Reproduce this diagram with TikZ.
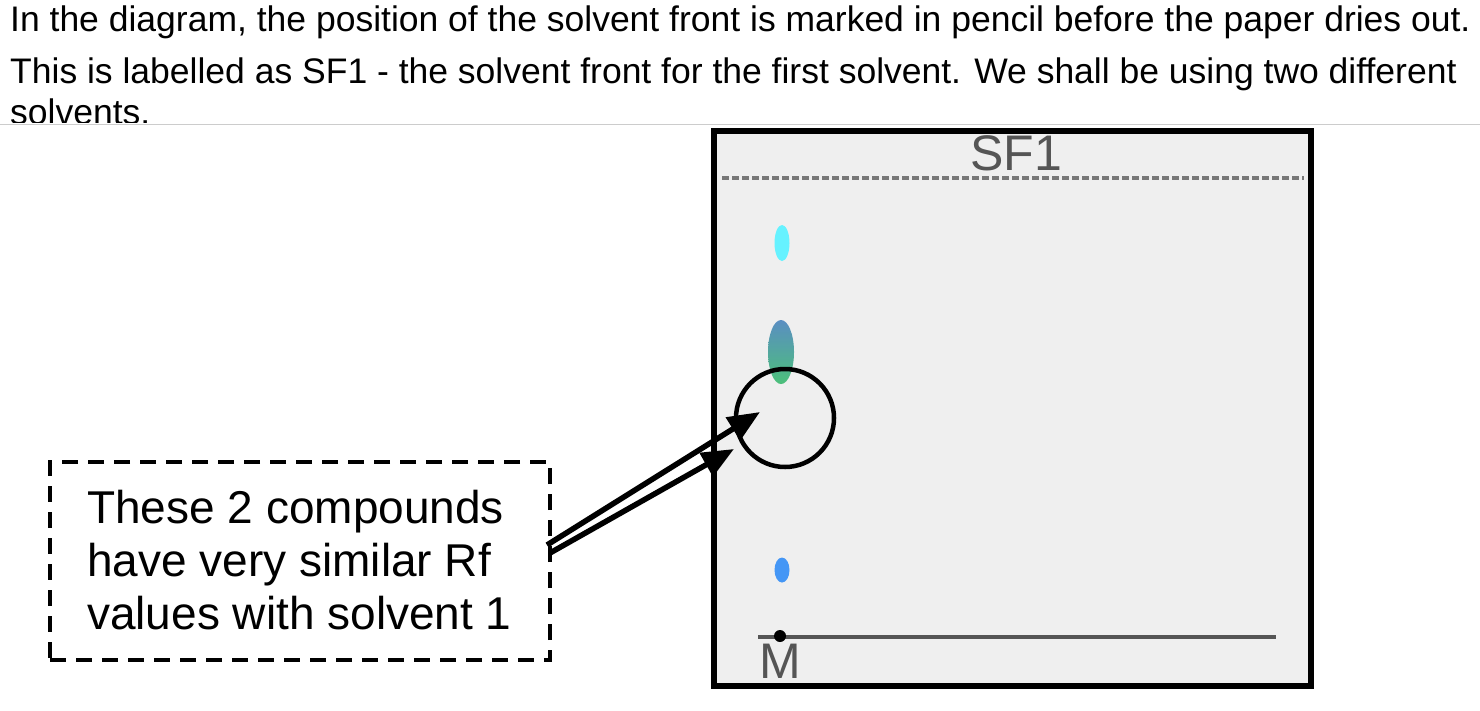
\documentclass[tikz,border=0pt]{standalone}
\usepackage{fontspec}
\setmainfont{Liberation Sans}
\usetikzlibrary{arrows.meta,shapes.geometric}
\definecolor{plate}{HTML}{EFEFEF}
\definecolor{penc}{HTML}{555555}
\definecolor{cyspot}{HTML}{66F2FF}
\definecolor{blspot}{HTML}{4496F5}
\definecolor{topspot}{HTML}{5A8EC2}
\definecolor{botspot}{HTML}{4CC07A}
\tikzset{
 toptext/.style={anchor=base west,inner sep=0,font=\fontsize{35.5}{40}\selectfont},
 boxtext/.style={anchor=base west,inner sep=0,font=\fontsize{46}{52}\selectfont},
 arr/.style={line width=5.5pt,-{Triangle[length=32pt,width=26pt]}},
 spot/.style={ellipse,inner sep=0}
}
\begin{document}
\begin{tikzpicture}[x=1pt,y=-1pt]
\useasboundingbox (0,0) rectangle (1480,710);
\node[toptext] (t1) at (10,31) {In the diagram, the position of the solvent front is marked in pencil before the paper dries out.};
\node[toptext] (t2) at (10,83) {This is labelled as SF1 - the solvent front for the first solvent. We shall be using two different};
\node[toptext] (t3) at (10,124) {solvents.};
\fill[white] (0,123) rectangle (1480,710);
\draw[gray!40,line width=1pt] (0,124) -- (1480,124);
% plate
\draw[line width=6.5pt,fill=plate] (714,131) rectangle (1311,686);
\draw[penc!80,line width=4pt,dash pattern=on 7pt off 3pt] (722,178) -- (1304,178);
\node[text=penc,font=\fontsize{50}{56}\selectfont,inner sep=0] (sf) at (1016,153) {SF1};
\node[spot,fill=cyspot,minimum width=15pt,minimum height=36pt] (s1) at (782,243) {};
\node[spot,top color=topspot,bottom color=botspot,minimum width=26pt,minimum height=64pt] (s2) at (781,352) {};
\node[spot,fill=blspot,minimum width=15pt,minimum height=25pt] (s3) at (782,570) {};
\draw[penc,line width=4pt] (758,637) -- (1276,637);
\fill (780,636) circle (6pt);
\node[text=penc,font=\fontsize{50}{56}\selectfont,inner sep=0] (m) at (780,661) {M};
\node[circle,draw,line width=4.5pt,minimum size=98pt,inner sep=0] (c) at (785,418) {};
% label box
\node[draw,line width=3.5pt,dash pattern=on 16pt off 10pt,minimum width=500pt,minimum height=198pt,inner sep=0] (box) at (300,561) {};
\node[boxtext] (l1) at (87,523) {These 2 compounds};
\node[boxtext] (l2) at (87,576) {have very similar Rf};
\node[boxtext] (l3) at (87,629) {values with solvent 1};
\coordinate (a1s) at (547,545);
\coordinate (a1e) at (760,412);
\coordinate (a2s) at (550,553);
\coordinate (a2e) at (734,449);
\draw[arr] (a1s) -- (a1e);
\draw[arr] (a2s) -- (a2e);
\end{tikzpicture}
\end{document}
